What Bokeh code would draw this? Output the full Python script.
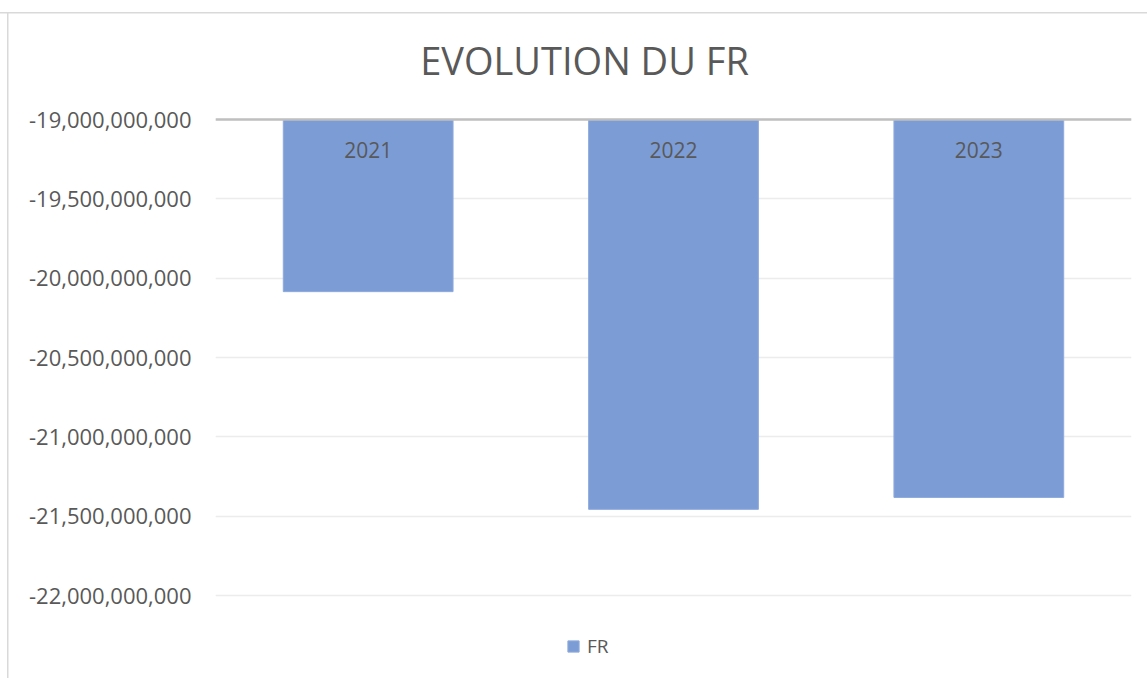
from bokeh.plotting import figure
from bokeh.models import (Range1d, FactorRange, NumeralTickFormatter, FixedTicker, Span,
                          Label, Legend, LegendItem, ColumnDataSource)
from bokeh.embed import file_html
from bokeh.resources import INLINE
from bokeh.core.properties import value

# ---- data ----
years = ["2021", "2022", "2023"]
fr_values = [-20_085_000_000, -21_457_000_000, -21_382_000_000]
axis_cross = -19_000_000_000
y_ticks = [-19_000_000_000, -19_500_000_000, -20_000_000_000, -20_500_000_000,
           -21_000_000_000, -21_500_000_000, -22_000_000_000]
title_text = "EVOLUTION DU FR"
series_name = "FR"

TEXT = "#595959"
BAR = "#7c9cd6"
FONT = "Open Sans"

W, H = 1147, 678
FRAME_L, FRAME_R = 215, 1131
TOP_PX, BOT_PX = 119, 595        # pixel rows of the highest / lowest tick
span = max(y_ticks) - min(y_ticks)
per_px = span / (BOT_PX - TOP_PX)
y_end = max(y_ticks) + TOP_PX * per_px
y_start = min(y_ticks) - (H - BOT_PX) * per_px

src = ColumnDataSource(dict(x=years, bottom=fr_values, top=[axis_cross] * len(years)))

p = figure(width=W, height=H,
           x_range=FactorRange(*years, range_padding=0),
           y_range=Range1d(y_start, y_end),
           output_backend="svg", toolbar_location=None, title=None,
           min_border_left=FRAME_L, min_border_right=W - FRAME_R,
           min_border_top=0, min_border_bottom=0)
p.outline_line_color = None
p.background_fill_color = None
p.border_fill_color = None
p.styles = {
    "background": ("linear-gradient(#d9d9d9,#d9d9d9) 0px 12px / 100% 1.5px no-repeat, "
                   "linear-gradient(#d9d9d9,#d9d9d9) 7px 12px / 1.5px 100% no-repeat, white"),
}
p.xaxis.visible = False
p.xgrid.visible = False
p.ygrid.grid_line_color = "#ececec"
p.ygrid.grid_line_width = 1.5

yax = p.yaxis[0]
yax.ticker = FixedTicker(ticks=y_ticks)
yax.formatter = NumeralTickFormatter(format="0,0")
yax.axis_line_color = None
yax.major_tick_line_color = None
yax.minor_tick_line_color = None
yax.major_tick_in = 0
yax.major_tick_out = 0
yax.major_label_standoff = 24
yax.major_label_text_font = FONT
yax.major_label_text_font_size = "22px"
yax.major_label_text_color = TEXT

r = p.vbar(x="x", top="top", bottom="bottom", width=0.556, source=src,
           fill_color=BAR, line_color="#8eaadc", line_width=1)

p.text(x="x", y="top", text="x", source=src, text_align="center", text_baseline="middle",
       y_offset=30, text_font=value(FONT), text_font_size="21px", text_color=TEXT)

p.add_layout(Span(location=axis_cross, dimension="width", line_color="#bfbfbf", line_width=2.5))

p.add_layout(Label(x=584 - FRAME_L, y=H - 59, x_units="screen", y_units="screen", text=title_text,
                   text_align="center", text_baseline="alphabetic", text_font=FONT,
                   text_font_size="38px", text_color=TEXT))

legend = Legend(items=[LegendItem(label=series_name, renderers=[r])], location=(566 - FRAME_L, H - 659),
                orientation="horizontal", glyph_width=14, glyph_height=14, label_standoff=7,
                padding=0, margin=0, border_line_color=None, background_fill_alpha=0,
                label_text_font=FONT, label_text_font_size="19px", label_text_color=TEXT,
                label_height=14)
p.add_layout(legend)

open("out.html", "w").write(file_html(p, INLINE))
